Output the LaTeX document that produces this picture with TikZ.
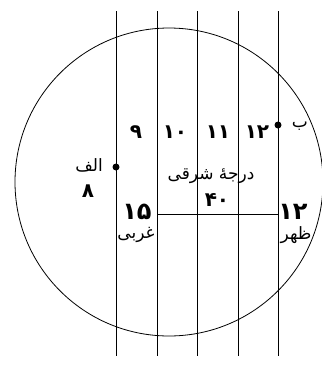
\documentclass[tikz,border=0pt]{standalone}
\usepackage{fontspec}
\newfontfamily\arabicfont[Script=Arabic]{DejaVu Sans}
\TeXXeTstate=1
\usetikzlibrary{positioning}

\begin{document}
\begin{tikzpicture}[
    x=1pt, y=-1pt,
    line/.style={line width=0.8pt, draw=black},
    dot/.style={circle, fill=black, inner sep=0pt, minimum size=7pt},
    num/.style={font=\arabicfont\bfseries\fontsize{20}{22}\selectfont, inner sep=1pt},
    bignum/.style={font=\arabicfont\bfseries\fontsize{24}{26}\selectfont, inner sep=1pt},
    word/.style={font=\arabicfont\fontsize{17}{19}\selectfont, inner sep=1pt}
]
\useasboundingbox (0,0) rectangle (322,365);

% Globe outline
\draw[line] (169,182) circle[radius=154pt];

% Meridians
\def\yTop{11}
\def\yBot{356}
\def\yNoon{214}
\foreach \x/\name in {116/mA, 157/mB, 197/mC, 238/mD, 278/mE} {
    \draw[line] (\x,\yTop) -- (\x,\yBot);
    \coordinate (\name) at (\x,\yNoon);
}

% Parallel at 40 degrees
\draw[line] (mB) -- (mE);

% Points alef and be
\node[dot] (alef) at (116,167) {};
\node[dot] (be) at (278,125) {};
\node[word] (alefname) at (89,165) {\beginR الف\endR};
\node[num] (alefhour) at (88,191) {۸};
\node[word] (bename) at (300,126) {\beginR ب\endR};

% Hour labels
\foreach \x/\h/\name in {136/۹/hnine, 175/۱۰/hten, 218/۱۱/heleven, 257/۱۲/htwelve} {
    \node[num] (\name) at (\x,132) {\h};
}

% Latitude label
\node[word] (lat) at (211,176) {\beginR درجهٔ شرقی\endR};
\node[num] (latval) at (217,200) {۴۰};

% West and noon
\node[bignum] (west) at (137,212) {۱۵};
\node[word] (westname) at (136,235) {\beginR غربی\endR};
\node[bignum] (noon) at (293,212) {۱۲};
\node[word] (noonname) at (296,235) {\beginR ظهر\endR};

\end{tikzpicture}
\end{document}
